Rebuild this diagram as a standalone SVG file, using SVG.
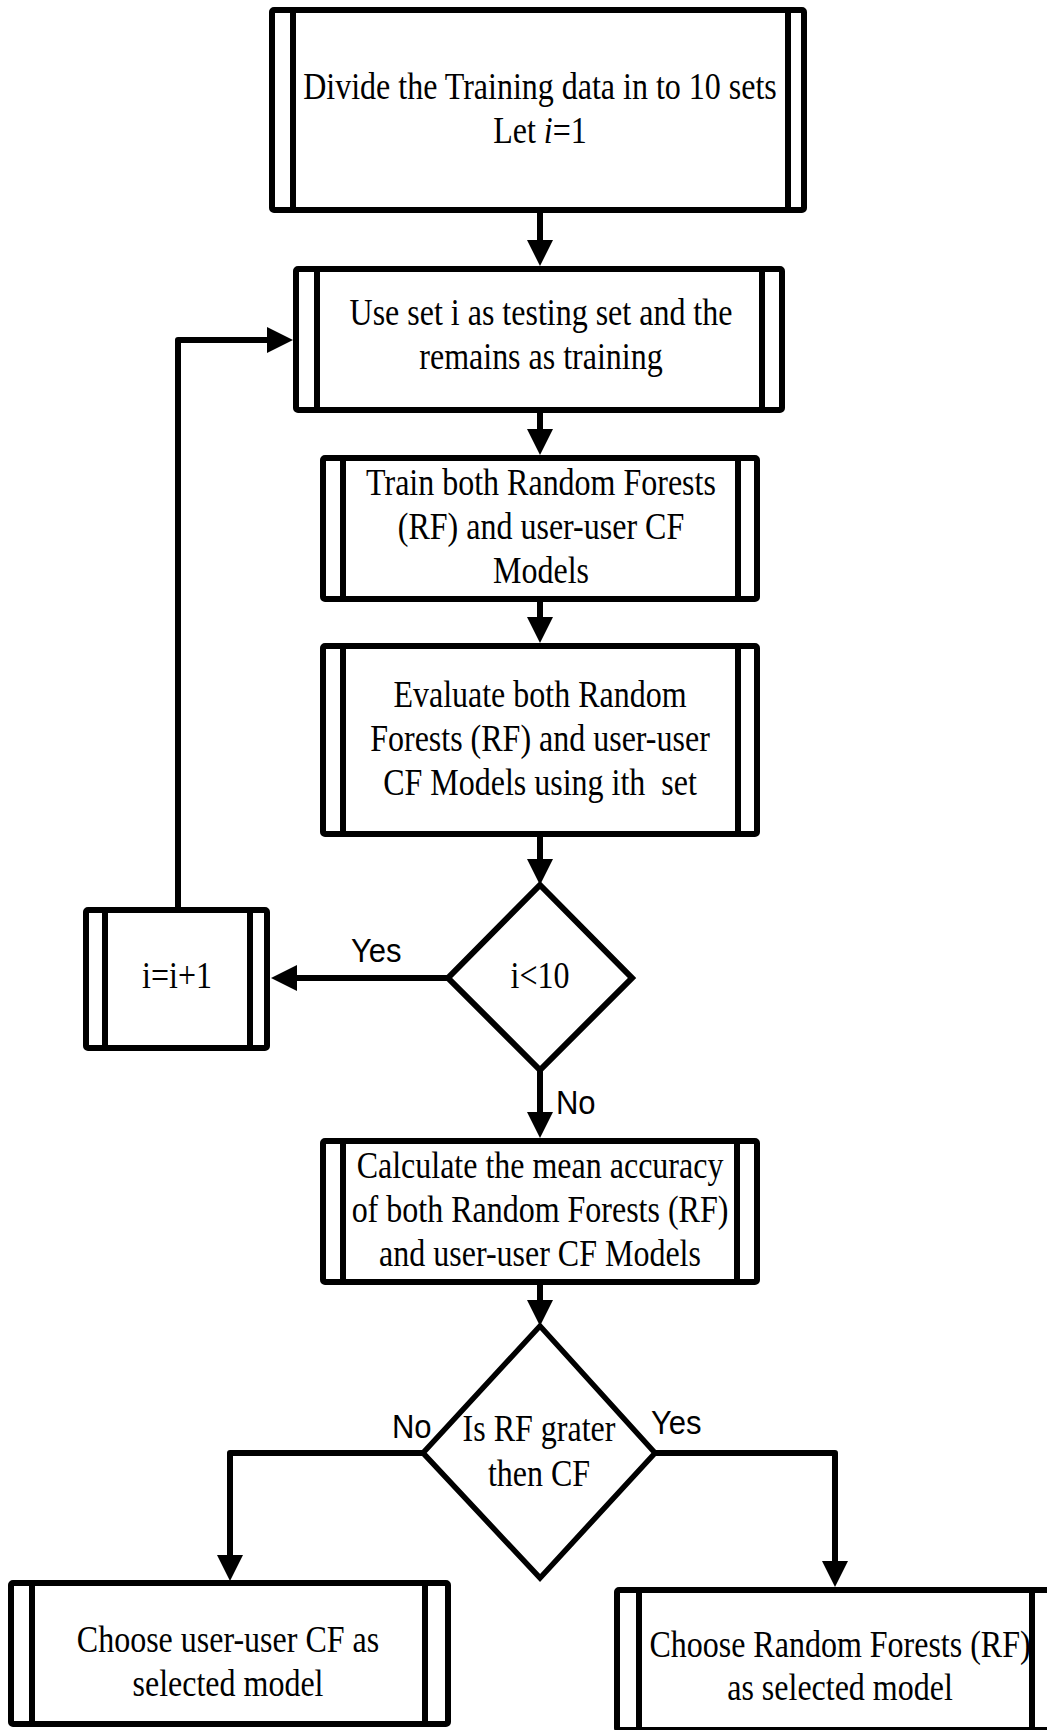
<svg xmlns="http://www.w3.org/2000/svg" width="1047" height="1730" viewBox="0 0 1047 1730">
<style>
  .box { fill: #ffffff; stroke: #000000; stroke-width: 6; stroke-linejoin: round; }
  .bar { stroke: #000000; stroke-width: 6; fill: none; }
  .dia { fill: #ffffff; stroke: #000000; stroke-width: 6; stroke-linejoin: miter; }
  .conn { fill: none; stroke: #000000; stroke-width: 6; stroke-linejoin: round; }
  .t { font-family: "Liberation Serif", "Times New Roman", serif; font-size: 32px; fill: #000000; text-anchor: middle; }
  .lbl { font-family: "Liberation Sans", Arial, sans-serif; font-size: 31px; fill: #000000; }
</style>
<defs>
  <marker id="ah" markerUnits="userSpaceOnUse" viewBox="0 0 26 26" markerWidth="26" markerHeight="26" refX="6" refY="13" orient="auto">
    <path d="M0,0 L26,13 L0,26 Z" fill="#000000"/>
  </marker>
</defs>
<rect width="1047" height="1730" fill="#ffffff"/>

<g id="connectors">
  <line class="conn" x1="540" y1="210" x2="540" y2="246" marker-end="url(#ah)"/>
  <line class="conn" x1="540" y1="413" x2="540" y2="435" marker-end="url(#ah)"/>
  <line class="conn" x1="540" y1="602" x2="540" y2="623" marker-end="url(#ah)"/>
  <line class="conn" x1="540" y1="837" x2="540" y2="865" marker-end="url(#ah)"/>
  <line class="conn" x1="448" y1="978" x2="291" y2="978" marker-end="url(#ah)"/>
  <path class="conn" d="M178,907 L178,340 L273,340" marker-end="url(#ah)"/>
  <line class="conn" x1="540" y1="1070" x2="540" y2="1118" marker-end="url(#ah)"/>
  <line class="conn" x1="540" y1="1285" x2="540" y2="1306" marker-end="url(#ah)"/>
  <path class="conn" d="M423,1453 L230,1453 L230,1561" marker-end="url(#ah)"/>
  <path class="conn" d="M655,1453 L835,1453 L835,1567" marker-end="url(#ah)"/>
  <text class="lbl" x="351" y="0" transform="translate(0,962) scale(1,1.08)">Yes</text>
  <text class="lbl" x="556" y="0" transform="translate(0,1114) scale(1,1.08)">No</text>
  <text class="lbl" x="392" y="0" transform="translate(0,1438) scale(1,1.08)">No</text>
  <text class="lbl" x="651" y="0" transform="translate(0,1434) scale(1,1.08)">Yes</text>
</g>

<g id="n1">
  <rect class="box" x="272" y="10" width="532" height="200" rx="2"/>
  <line class="bar" x1="293" y1="10" x2="293" y2="210"/>
  <line class="bar" x1="788" y1="10" x2="788" y2="210"/>
  <text class="t" transform="translate(540,99) scale(1,1.16)"><tspan x="0" y="0">Divide the Training data in to 10 sets</tspan><tspan x="0" y="37.9">Let <tspan font-style="italic">i</tspan>=1</tspan></text>
</g>

<g id="n2">
  <rect class="box" x="296" y="269" width="486" height="141" rx="2"/>
  <line class="bar" x1="317" y1="269" x2="317" y2="410"/>
  <line class="bar" x1="762" y1="269" x2="762" y2="410"/>
  <text class="t" transform="translate(541,325) scale(1,1.16)"><tspan x="0" y="0">Use set i as testing set and the</tspan><tspan x="0" y="37.9">remains as training</tspan></text>
</g>

<g id="n3">
  <rect class="box" x="323" y="458" width="434" height="141" rx="2"/>
  <line class="bar" x1="343" y1="458" x2="343" y2="599"/>
  <line class="bar" x1="738" y1="458" x2="738" y2="599"/>
  <text class="t" transform="translate(541,495) scale(1,1.16)"><tspan x="0" y="0">Train both Random Forests</tspan><tspan x="0" y="37.9">(RF) and user-user CF</tspan><tspan x="0" y="75.8">Models</tspan></text>
</g>

<g id="n4">
  <rect class="box" x="323" y="646" width="434" height="188" rx="2"/>
  <line class="bar" x1="343" y1="646" x2="343" y2="834"/>
  <line class="bar" x1="738" y1="646" x2="738" y2="834"/>
  <text class="t" transform="translate(540,707) scale(1,1.16)" xml:space="preserve"><tspan x="0" y="0">Evaluate both Random</tspan><tspan x="0" y="37.9">Forests (RF) and user-user</tspan><tspan x="0" y="75.8">CF Models using ith  set</tspan></text>
</g>

<g id="d1">
  <polygon class="dia" points="540,885 632,978 540,1070 448,978"/>
  <text class="t" transform="translate(540,988) scale(1,1.16)">i&lt;10</text>
</g>

<g id="n5">
  <rect class="box" x="86" y="910" width="181" height="138" rx="2"/>
  <line class="bar" x1="105" y1="910" x2="105" y2="1048"/>
  <line class="bar" x1="250" y1="910" x2="250" y2="1048"/>
  <text class="t" transform="translate(177,988) scale(1,1.16)">i=i+1</text>
</g>

<g id="n6">
  <rect class="box" x="323" y="1141" width="434" height="141" rx="2"/>
  <line class="bar" x1="343" y1="1141" x2="343" y2="1282"/>
  <line class="bar" x1="737" y1="1141" x2="737" y2="1282"/>
  <text class="t" transform="translate(540,1178) scale(1,1.16)"><tspan x="0" y="0">Calculate the mean accuracy</tspan><tspan x="0" y="37.9">of both Random Forests (RF)</tspan><tspan x="0" y="75.8">and user-user CF Models</tspan></text>
</g>

<g id="d2">
  <polygon class="dia" points="540,1326 655,1453 540,1578 423,1453" style="stroke-width:5.5"/>
  <text class="t" transform="translate(539,1441) scale(1,1.16)"><tspan x="0" y="0">Is RF grater</tspan><tspan x="0" y="38.8">then CF</tspan></text>
</g>

<g id="n7">
  <rect class="box" x="11" y="1583" width="437" height="141" rx="2"/>
  <line class="bar" x1="32" y1="1583" x2="32" y2="1724"/>
  <line class="bar" x1="425" y1="1583" x2="425" y2="1724"/>
  <text class="t" transform="translate(228,1652) scale(1,1.16)"><tspan x="0" y="0">Choose user-user CF as</tspan><tspan x="0" y="37.9">selected model</tspan></text>
</g>

<g id="n8">
  <rect class="box" x="617" y="1590" width="440" height="140" rx="2"/>
  <line class="bar" x1="639" y1="1590" x2="639" y2="1730"/>
  <line class="bar" x1="1032" y1="1590" x2="1032" y2="1730"/>
  <text class="t" transform="translate(840,1657) scale(1,1.16)"><tspan x="0" y="0">Choose Random Forests (RF)</tspan><tspan x="0" y="37.5">as selected model</tspan></text>
</g>
</svg>
